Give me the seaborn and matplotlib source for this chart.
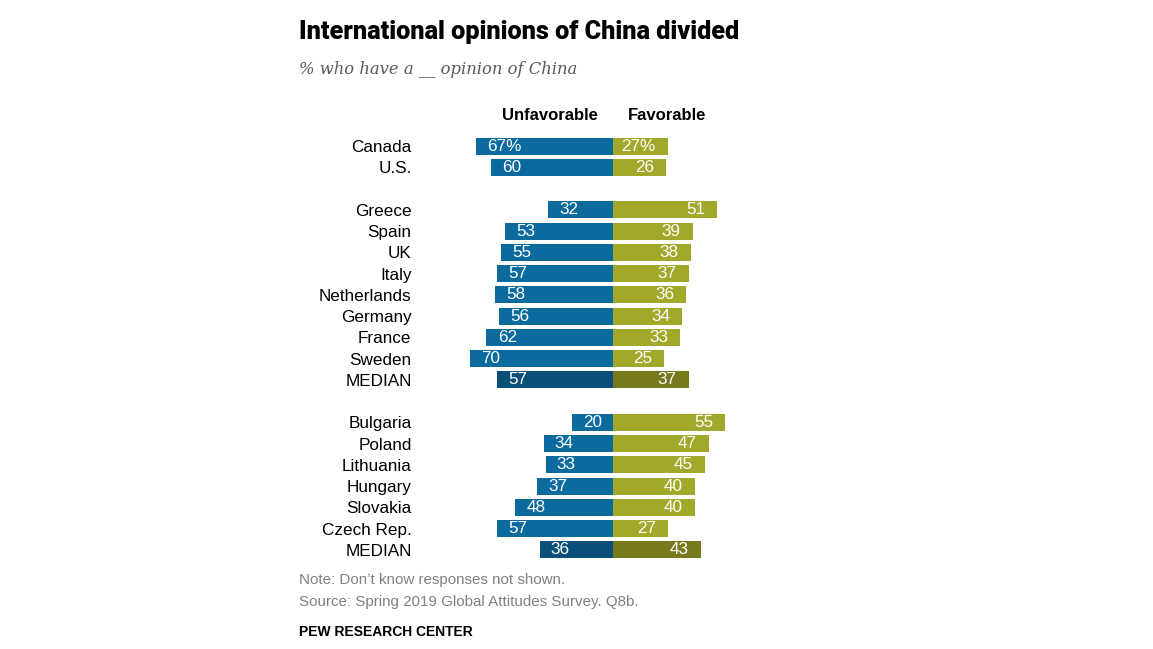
import numpy as np
import pandas as pd
import matplotlib
matplotlib.use("Agg")
import matplotlib.pyplot as plt
import seaborn as sns

# data
countries = ["Canada", "U.S.", "",
             "Greece", "Spain", "UK", "Italy", "Netherlands", "Germany", "France", "Sweden", "MEDIAN", "",
             "Bulgaria", "Poland", "Lithuania", "Hungary", "Slovakia", "Czech Rep.", "MEDIAN"]
unfavorable = [67, 60, np.nan,
               32, 53, 55, 57, 58, 56, 62, 70, 57, np.nan,
               20, 34, 33, 37, 48, 57, 36]
favorable = [27, 26, np.nan,
             51, 39, 38, 37, 36, 34, 33, 25, 37, np.nan,
             55, 47, 45, 40, 40, 27, 43]

BLUE = "#0b6a9e"
BLUE_DARK = "#0a4f78"
GREEN = "#a1a82a"
GREEN_DARK = "#767a1c"

sns.set_style("white")
plt.rcParams["font.family"] = ["Liberation Sans", "DejaVu Sans"]
plt.rcParams["text.color"] = "black"

df = pd.DataFrame({"country": countries, "unfav": unfavorable, "fav": favorable})
df["pos"] = np.arange(len(df))
df = df.dropna(subset=["unfav"]).reset_index(drop=True)
df["neg_unfav"] = -df["unfav"]
is_median = df["country"] == "MEDIAN"

fig = plt.figure(figsize=(11.53, 6.49), dpi=100)
ax = fig.add_axes([413 / 1153, 0.1362, 400 / 1153, 0.6552])

sns.barplot(data=df, x="neg_unfav", y="pos", orient="h", native_scale=True,
            color=BLUE, width=0.8, ax=ax, saturation=1, linewidth=0)
sns.barplot(data=df, x="fav", y="pos", orient="h", native_scale=True,
            color=GREEN, width=0.8, ax=ax, saturation=1, linewidth=0)

# darker shade for median rows
n = len(df)
for i, p in enumerate(ax.patches[:n]):
    if is_median[i]:
        p.set_facecolor(BLUE_DARK)
for i, p in enumerate(ax.patches[n:2 * n]):
    if is_median[i]:
        p.set_facecolor(GREEN_DARK)

ax.set_xlim(-98, 98)
ax.set_ylim(19.5, -0.5)
ax.set_xticks([])
ax.set_yticks(df["pos"])
ax.set_yticklabels(df["country"], fontsize=12.3, color="black")
ax.tick_params(axis="y", length=0, pad=1)
ax.set_xlabel("")
ax.set_ylabel("")
sns.despine(ax=ax, left=True, bottom=True)

for i, row in df.iterrows():
    u = f"{int(row.unfav)}%" if i == 0 else f"{int(row.unfav)}"
    f = f"{int(row.fav)}%" if i == 0 else f"{int(row.fav)}"
    ax.text(-row.unfav + 5.5, row.pos, u, ha="left", va="center", color="white", fontsize=12.3)
    ax.text(row.fav - 6, row.pos, f, ha="right", va="center", color="white", fontsize=12.3)

ax.text(-31, -1.42, "Unfavorable", ha="center", va="center", fontsize=12, fontweight="bold")
ax.text(26.5, -1.42, "Favorable", ha="center", va="center", fontsize=12, fontweight="bold")

x0 = 299 / 1153
fig.text(x0, 1 - 32 / 649, "International opinions of China divided", fontsize=18.2,
         fontweight="black", family="Roboto", va="center", ha="left")
fig.text(x0, 1 - 69 / 649, "% who have a __ opinion of China", fontsize=11.8,
         style="italic", family="DejaVu Serif", color="#5a5a5a", va="center", ha="left")
fig.text(x0, 1 - 580 / 649, "Note: Don\u2019t know responses not shown.", fontsize=10.9,
         color="#808080", va="center", ha="left")
fig.text(x0, 1 - 602 / 649, "Source: Spring 2019 Global Attitudes Survey. Q8b.", fontsize=10.9,
         color="#808080", va="center", ha="left")
fig.text(x0, 1 - 632 / 649, "PEW RESEARCH CENTER", fontsize=10, fontweight="bold",
         color="black", va="center", ha="left")

fig.savefig("out.png", dpi=100)
